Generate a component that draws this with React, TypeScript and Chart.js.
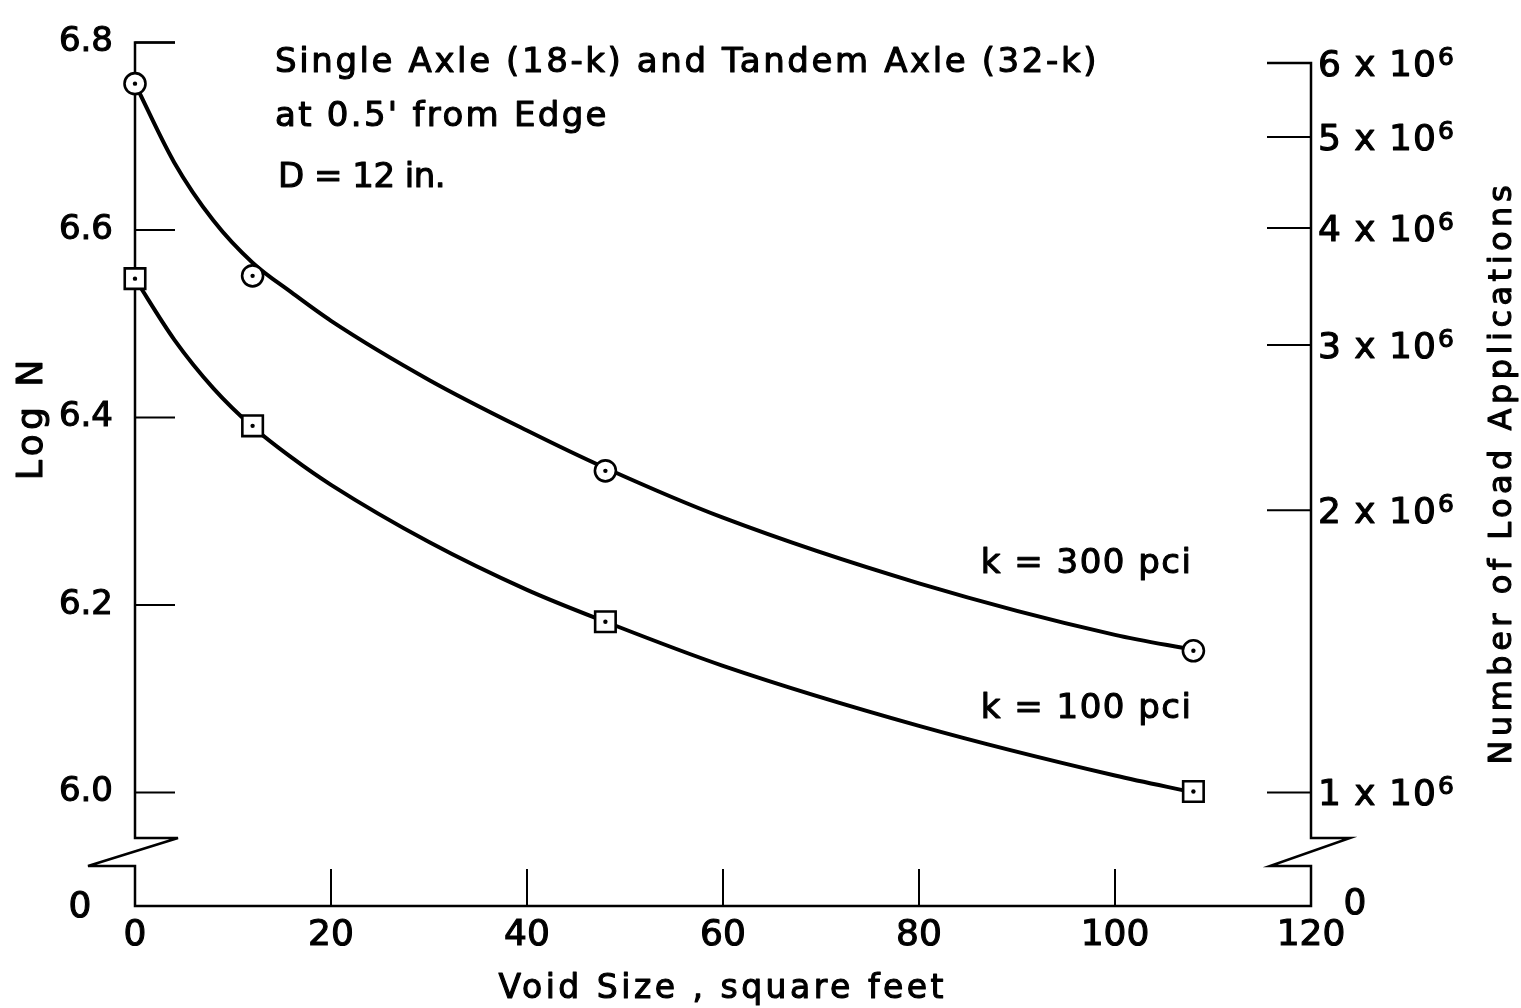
import React, { useEffect, useRef } from 'react';
import { Chart, registerables } from 'chart.js';

Chart.register(...registerables);

// Measured points (void size in sq ft vs. log of allowable load applications)
const voidSizes = [0, 12, 48, 108];
const logN300 = [6.756, 6.551, 6.343, 6.151];
const logN100 = [6.548, 6.391, 6.182, 6.001];

// Hand-faired curves through the measured points
const curveSizes = [0, 4, 8, 12, 16, 20, 30, 40, 48, 60, 80, 100, 108];
const curve300 = [6.756, 6.672, 6.61, 6.565, 6.533, 6.503, 6.44, 6.386, 6.346, 6.293, 6.223, 6.168, 6.152];
const curve100 = [6.548, 6.483, 6.431, 6.39, 6.357, 6.328, 6.267, 6.216, 6.182, 6.135, 6.071, 6.018, 6.0];

// Axis ticks
const xTicks = [0, 20, 40, 60, 80, 100, 120];
const logTicks = [6.0, 6.2, 6.4, 6.6, 6.8];
const loadTicks = [1e6, 2e6, 3e6, 4e6, 5e6, 6e6];
const loadMantissas = ['1', '2', '3', '4', '5', '6'];
const loadExponent = '6';

const noteLines = ['Single Axle (18-k) and Tandem Axle (32-k)', "at 0.5' from Edge", 'D = 12 in.'];
const seriesNames = ['k = 300 pci', 'k = 100 pci'];

const FAMILY = "'DejaVu Sans', sans-serif";
const LOG_MIN = 5.8788;
const LOG_MAX = 6.8;
const INK = '#000';
const WEIGHT = 1.1; // outline added to glyphs for a pen-lettered stroke

function drawText(
  ctx: CanvasRenderingContext2D,
  str: string,
  x: number,
  y: number,
  size: number,
  spacing: number,
  align: CanvasTextAlign = 'left',
  rotate = false,
) {
  ctx.save();
  ctx.font = `${size}px ${FAMILY}`;
  (ctx as any).letterSpacing = `${spacing}px`;
  ctx.fillStyle = INK;
  ctx.strokeStyle = INK;
  ctx.lineWidth = WEIGHT;
  ctx.lineJoin = 'round';
  ctx.textBaseline = 'alphabetic';
  ctx.textAlign = align;
  ctx.translate(x, y);
  if (rotate) ctx.rotate(-Math.PI / 2);
  const ox = align === 'center' ? spacing / 2 : 0;
  ctx.fillText(str, ox, 0);
  ctx.strokeText(str, ox, 0);
  ctx.restore();
}

const framePlugin = {
  id: 'frame',
  beforeDatasetsDraw(chart: any) {
    const { ctx, chartArea } = chart;
    const { left, right, bottom } = chartArea;
    const ys = chart.scales.y;
    const xs = chart.scales.x;
    const rs = chart.scales.y2;
    const topL = ys.getPixelForValue(logTicks[logTicks.length - 1]);
    const topR = rs.getPixelForValue(loadTicks[loadTicks.length - 1]);
    const bHi = bottom - 68;
    const bLo = bottom - 40;

    ctx.save();
    ctx.strokeStyle = INK;
    ctx.lineWidth = 2.5;
    ctx.lineJoin = 'miter';
    ctx.miterLimit = 6;
    ctx.lineCap = 'butt';

    // Frame: left axis with break, base line, right axis with break
    ctx.beginPath();
    ctx.moveTo(left + 40, topL);
    ctx.lineTo(left, topL);
    ctx.lineTo(left, bHi);
    ctx.lineTo(left + 43, bHi);
    ctx.lineTo(left - 47, bLo);
    ctx.lineTo(left, bLo);
    ctx.lineTo(left, bottom);
    ctx.lineTo(right, bottom);
    ctx.lineTo(right, bLo);
    ctx.lineTo(right - 41, bLo);
    ctx.lineTo(right + 39, bHi);
    ctx.lineTo(right, bHi);
    ctx.lineTo(right, topR);
    ctx.lineTo(right - 44, topR);
    ctx.stroke();

    ctx.lineWidth = 2;
    ctx.beginPath();
    logTicks.forEach((v) => {
      const py = ys.getPixelForValue(v);
      ctx.moveTo(left, py);
      ctx.lineTo(left + 40, py);
    });
    loadTicks.forEach((v) => {
      const py = rs.getPixelForValue(v);
      ctx.moveTo(right, py);
      ctx.lineTo(right - 44, py);
    });
    xTicks.slice(1, -1).forEach((v) => {
      const px = xs.getPixelForValue(v);
      ctx.moveTo(px, bottom);
      ctx.lineTo(px, bottom - 37);
    });
    ctx.stroke();
    ctx.restore();
  },
  afterDraw(chart: any) {
    const { ctx, chartArea } = chart;
    const { left, right, bottom } = chartArea;
    const xs = chart.scales.x;
    const ys = chart.scales.y;
    const rs = chart.scales.y2;

    // Right-hand axis: number of load applications
    loadTicks.forEach((v, i) => {
      const py = rs.getPixelForValue(v);
      const base = `${loadMantissas[i]} x 10`;
      ctx.save();
      ctx.font = `36px ${FAMILY}`;
      (ctx as any).letterSpacing = '1px';
      const w = ctx.measureText(base).width;
      ctx.restore();
      drawText(ctx, base, right + 7, py + 13, 36, 1);
      drawText(ctx, loadExponent, right + 7 + w + 1, py + 2, 25, 0);
    });

    // Zero labels at the broken base
    drawText(ctx, '0', left - 55, bottom + 11, 36, 0, 'center');
    drawText(ctx, '0', right + 44, bottom + 8, 36, 0, 'center');

    // Axis titles
    drawText(ctx, 'Void Size , square feet', (left + right) / 2 - 2, bottom + 92, 33, 3.5, 'center');
    drawText(ctx, 'Log N', 42, 420, 36, 4.4, 'center', true);
    drawText(ctx, 'Number of Load Applications', 1511, 475, 32, 4.5, 'center', true);

    // Notes
    const noteBase = [72, 126, 187];
    const noteSpacing = [2.6, 2.3, -0.5];
    noteLines.forEach((t, i) => drawText(ctx, t, 275 + (i === 2 ? 3 : 0), noteBase[i], 34, noteSpacing[i]));

    // Curve labels
    drawText(ctx, seriesNames[0], xs.getPixelForValue(86.3), ys.getPixelForValue(6.234), 34, 1.5);
    drawText(ctx, seriesNames[1], xs.getPixelForValue(86.3), ys.getPixelForValue(6.079), 34, 1.5);
  },
};

export default function App() {
  const canvasRef = useRef<HTMLCanvasElement | null>(null);

  useEffect(() => {
    const canvas = canvasRef.current;
    if (!canvas) return;
    const toXY = (xs: number[], ys: number[]) => xs.map((x, i) => ({ x, y: ys[i] }));
    const dot = {
      pointStyle: 'circle',
      pointRadius: 2.2,
      pointBackgroundColor: INK,
      pointBorderWidth: 0,
      showLine: false,
      clip: false,
      order: 0,
    };
    const curve = {
      showLine: true,
      borderColor: INK,
      borderWidth: 4,
      pointRadius: 0,
      cubicInterpolationMode: 'monotone',
      fill: false,
      order: 2,
    };

    const chart = new Chart(canvas, {
      type: 'scatter',
      data: {
        datasets: [
          { label: 'k = 300 pci centers', data: toXY(voidSizes, logN300), ...dot },
          { label: 'k = 100 pci centers', data: toXY(voidSizes, logN100), ...dot },
          {
            label: 'k = 300 pci',
            data: toXY(voidSizes, logN300),
            pointStyle: 'circle',
            pointRadius: 10.5,
            pointBackgroundColor: '#fff',
            pointBorderColor: INK,
            pointBorderWidth: 2.6,
            showLine: false,
            clip: false,
            order: 1,
          },
          {
            label: 'k = 100 pci',
            data: toXY(voidSizes, logN100),
            pointStyle: 'rect',
            pointRadius: 14.5,
            pointBackgroundColor: '#fff',
            pointBorderColor: INK,
            pointBorderWidth: 2.6,
            showLine: false,
            clip: false,
            order: 1,
          },
          { label: 'k = 300 pci curve', data: toXY(curveSizes, curve300), ...curve },
          { label: 'k = 100 pci curve', data: toXY(curveSizes, curve100), ...curve },
        ],
      },
      options: {
        responsive: false,
        animation: false,
        devicePixelRatio: 1,
        events: [],
        layout: { padding: { top: 17, right: 210, left: 0, bottom: 0 } },
        plugins: { legend: { display: false }, tooltip: { enabled: false } },
        scales: {
          x: {
            type: 'linear',
            position: 'bottom',
            min: 0,
            max: 120,
            afterBuildTicks: (s: any) => {
              s.ticks = xTicks.map((value) => ({ value }));
            },
            afterFit: (s: any) => {
              s.height = 102;
            },
            ticks: {
              color: INK,
              textStrokeColor: INK,
              textStrokeWidth: WEIGHT,
              font: { family: FAMILY, size: 36 },
              padding: 8,
              maxRotation: 0,
              autoSkip: false,
              callback: (v: any) => String(v),
            },
            grid: { display: false, drawTicks: false },
            border: { display: false },
          },
          y: {
            type: 'linear',
            position: 'left',
            min: LOG_MIN,
            max: LOG_MAX,
            afterBuildTicks: (s: any) => {
              s.ticks = logTicks.map((value) => ({ value }));
            },
            afterFit: (s: any) => {
              s.width = 135;
            },
            ticks: {
              color: INK,
              textStrokeColor: INK,
              textStrokeWidth: WEIGHT,
              font: { family: FAMILY, size: 34 },
              padding: 22,
              autoSkip: false,
              callback: (v: any) => Number(v).toFixed(1),
            },
            grid: { display: false, drawTicks: false },
            border: { display: false },
          },
          y2: {
            type: 'logarithmic',
            position: 'right',
            display: false,
            min: Math.pow(10, LOG_MIN),
            max: Math.pow(10, LOG_MAX),
          },
        },
      },
      plugins: [framePlugin],
    } as any);

    return () => chart.destroy();
  }, []);

  return (
    <div style={{ position: 'absolute', left: 0, top: 0, width: 1521, height: 1008, background: '#fff' }}>
      <canvas ref={canvasRef} width={1521} height={1008} style={{ display: 'block' }} />
    </div>
  );
}
